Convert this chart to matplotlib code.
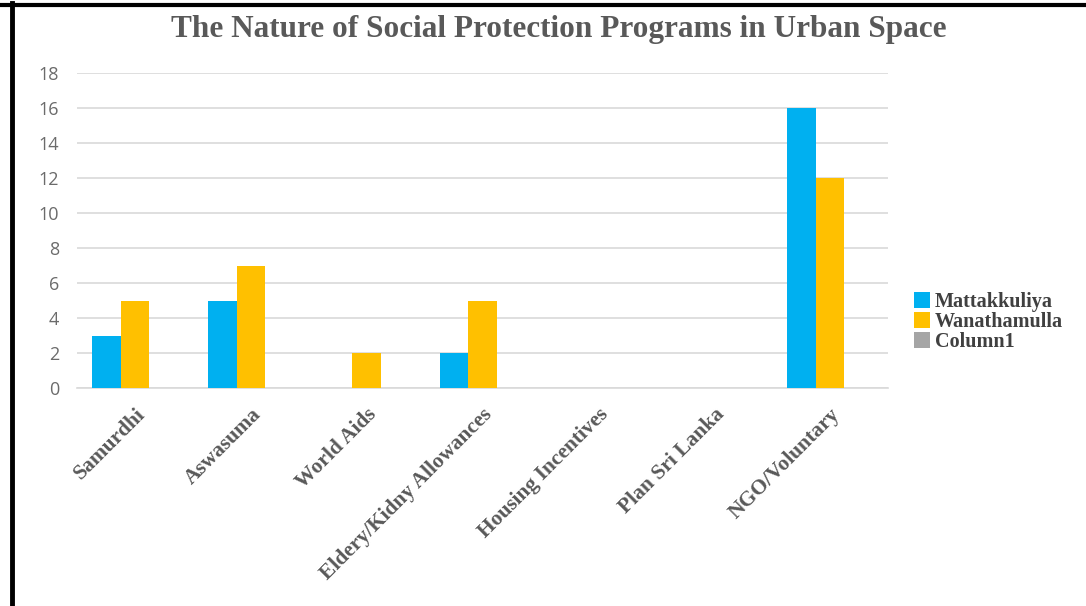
import matplotlib
matplotlib.use("Agg")
import matplotlib.pyplot as plt
import numpy as np
from matplotlib.lines import Line2D
from matplotlib.patches import Patch

categories = ["Samurdhi", "Aswasuma", "World Aids", "Eldery/Kidny Allowances",
              "Housing Incentives", "Plan Sri Lanka", "NGO/Voluntary"]
mattakkuliya = [3, 5, 0, 2, 0, 0, 16]
wanathamulla = [5, 7, 2, 5, 0, 0, 12]
column1 = [0, 0, 0, 0, 0, 0, 0]
series_names = ["Mattakkuliya", "Wanathamulla", "Column1"]
yticks = [0, 2, 4, 6, 8, 10, 12, 14, 16, 18]

colors = ["#00B0F0", "#FFC000", "#A5A5A5"]
W, H = 1086, 606
fig = plt.figure(figsize=(W / 100, H / 100), dpi=100)
fig.patch.set_facecolor("white")

ax = fig.add_axes([77 / W, 1 - 388 / H, (888 - 77) / W, (388 - 73) / H])
x = np.arange(len(categories))
bw = 0.245
for i, (vals, c, name) in enumerate(zip([mattakkuliya, wanathamulla, column1], colors, series_names)):
    ax.bar(x + (i - 1) * bw, vals, width=bw, color=c, label=name, zorder=3)

ax.set_xlim(-0.5, len(categories) - 0.5)
ax.set_ylim(0, 18)
ax.set_yticks(yticks)
ax.yaxis.grid(True, color="#D9D9D9", linewidth=1.2, zorder=0)
for s in ["top", "right", "left"]:
    ax.spines[s].set_visible(False)
ax.spines["bottom"].set_color("#D9D9D9")
ax.spines["bottom"].set_linewidth(1.2)
ax.tick_params(axis="both", length=0)
ax.tick_params(axis="y", labelsize=13, labelcolor="#6B6B6B", pad=13)
for lab in ax.get_yticklabels():
    lab.set_family("Open Sans")
ax.set_xticks(x)
ax.set_xticklabels(categories, rotation=45, ha="right", rotation_mode="anchor",
                   family="Liberation Serif", fontweight="bold", fontsize=15.5,
                   color="#595959")
ax.tick_params(axis="x", pad=12)

fig.text(559 / W, 1 - 30 / H, "The Nature of Social Protection Programs in Urban Space",
         ha="center", va="center", family="Liberation Serif", fontweight="bold",
         fontsize=22.5, color="#595959")

handles = [Patch(facecolor=c, edgecolor="none") for c in colors]
leg = fig.legend(handles, series_names, loc="center left",
                 bbox_to_anchor=(914 / W, 1 - 322 / H), frameon=False,
                 prop={"family": "Liberation Serif", "weight": "bold", "size": 14.5},
                 handlelength=0.8, handleheight=0.8, handletextpad=0.25,
                 labelspacing=0.0, borderaxespad=0, borderpad=0)
for t in leg.get_texts():
    t.set_color("#404040")

# outer black border (top and left)
fig.add_artist(Line2D([0, 1], [1 - 4.5 / H, 1 - 4.5 / H], color="black", linewidth=3,
                      transform=fig.transFigure))
fig.add_artist(Line2D([12 / W, 12 / W], [0, 1 - 3 / H], color="black", linewidth=3.5,
                      transform=fig.transFigure))

fig.savefig("out.png", dpi=100, facecolor="white")
